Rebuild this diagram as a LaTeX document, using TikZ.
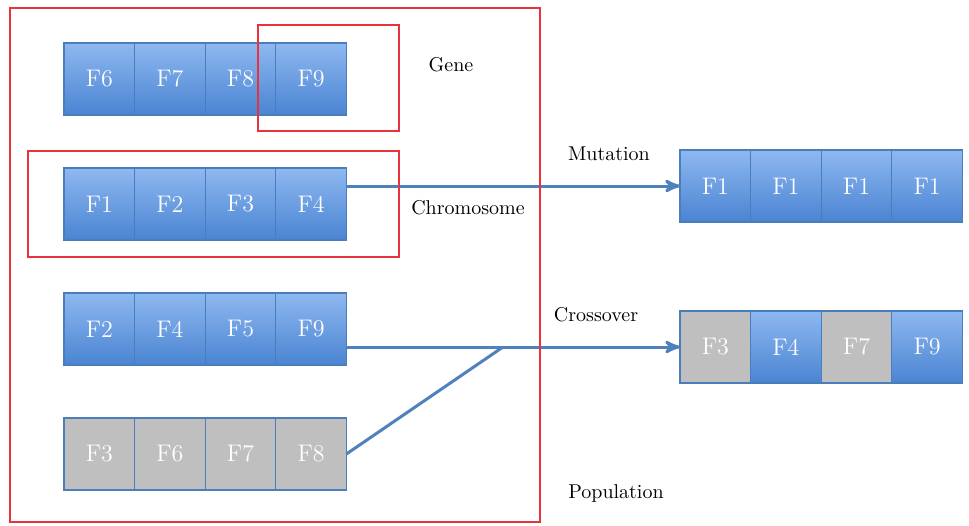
\documentclass[tikz,border=0pt]{standalone}
\usepackage{xcolor}
\usetikzlibrary{positioning, arrows}
\definecolor{celllight}{HTML}{8EB8F0}
\definecolor{celldark}{HTML}{4A84D2}
\definecolor{cellline}{HTML}{4A7EBB}
\definecolor{cellgray}{HTML}{BFBFBF}
\definecolor{linkblue}{HTML}{4F81BD}
\definecolor{framered}{HTML}{E8333C}
\tikzset{x=0.5pt, y=-0.5pt,
         node distance=0pt,
         >=stealth',
         cell/.style={draw=cellline, line width=0.6pt, minimum width=35.3pt,
                      minimum height=36pt, inner sep=0pt, outer sep=0pt,
                      text=white, font=\fontsize{12}{14}\selectfont},
         bluecell/.style={cell, top color=celllight, bottom color=celldark},
         graycell/.style={cell, fill=cellgray},
         redframe/.style={draw=framered, line width=1pt},
         link/.style={draw=linkblue, line width=1.5pt},
         tag/.style={font=\fontsize{10}{12}\selectfont},
         }

\begin{document}
\begin{tikzpicture}
    \useasboundingbox (0,0) rectangle (969,525);

    % population, left side
    \node[bluecell, anchor=west] (g1) at (64,79) {F6};
    \node[bluecell, right=of g1] (g2) {F7};
    \node[bluecell, right=of g2] (g3) {F8};
    \node[bluecell, right=of g3] (g4) {F9};

    \node[bluecell, anchor=west] (c1) at (64,204) {F1};
    \node[bluecell, right=of c1] (c2) {F2};
    \node[bluecell, right=of c2] (c3) {F3};
    \node[bluecell, right=of c3] (c4) {F4};

    \node[bluecell, anchor=west] (p1) at (64,329) {F2};
    \node[bluecell, right=of p1] (p2) {F4};
    \node[bluecell, right=of p2] (p3) {F5};
    \node[bluecell, right=of p3] (p4) {F9};

    \node[graycell, anchor=west] (q1) at (64,454) {F3};
    \node[graycell, right=of q1] (q2) {F6};
    \node[graycell, right=of q2] (q3) {F7};
    \node[graycell, right=of q3] (q4) {F8};

    % offspring, right side
    \node[bluecell, anchor=west] (m1) at (680,186) {F1};
    \node[bluecell, right=of m1] (m2) {F1};
    \node[bluecell, right=of m2] (m3) {F1};
    \node[bluecell, right=of m3] (m4) {F1};

    \node[graycell, anchor=west] (x1) at (680,347) {F3};
    \node[bluecell, right=of x1] (x2) {F4};
    \node[graycell, right=of x2] (x3) {F7};
    \node[bluecell, right=of x3] (x4) {F9};

    % labels
    \node[tag] (gene) at (451,65) {Gene};
    \node[tag] (chrom) at (468,208) {Chromosome};
    \node[tag] (mut) at (609,154) {Mutation};
    \node[tag] (cross) at (596,315) {Crossover};
    \node[tag] (pop) at (616,493) {Population};

    % operators
    \coordinate (merge) at (503,347);
    \draw[link, ->] (c4.east |- m1.west) -- (m1.west);
    \draw[link, ->] (p4.east |- x1.west) -- (x1.west);
    \draw[link] (q4.east) -- (merge);

    % frames
    \draw[redframe] (10,8) rectangle (540,522);
    \draw[redframe] (258,25) rectangle (399,131);
    \draw[redframe] (28,151) rectangle (399,257);
\end{tikzpicture}
\end{document}
